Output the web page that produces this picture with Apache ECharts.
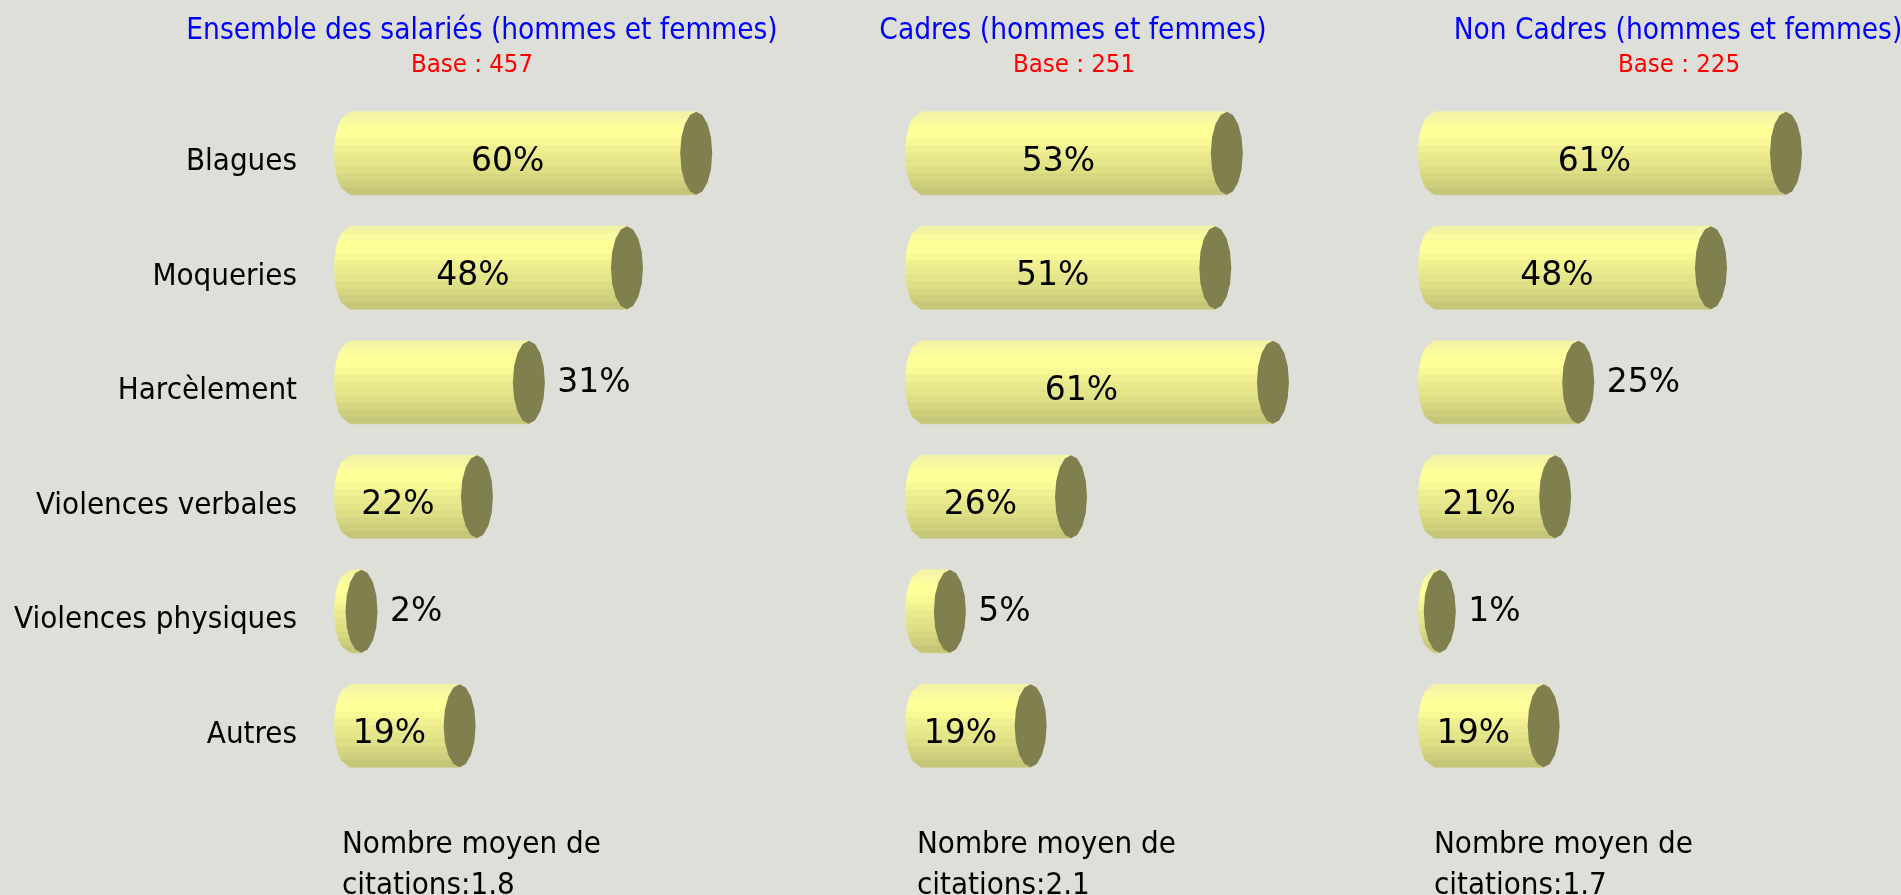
<!DOCTYPE html>
<html>
<head>
<meta charset="utf-8">
<script src="https://cdn.jsdelivr.net/npm/echarts@6/dist/echarts.min.js"></script>
<style>
  html, body { margin: 0; padding: 0; background: #DFDFD9; }
  #chart { width: 1901px; height: 895px; }
</style>
</head>
<body>
<div id="chart"></div>
<script>
// 数据
const categories = ['Blagues', 'Moqueries', 'Harcèlement', 'Violences verbales', 'Violences physiques', 'Autres'];
const ensembleValues = [60, 48, 31, 22, 2, 19];
const cadresValues = [53, 51, 61, 26, 5, 19];
const nonCadresValues = [61, 48, 25, 21, 1, 19];
const panelTitles = ['Ensemble des salariés (hommes et femmes)', 'Cadres (hommes et femmes)', 'Non Cadres (hommes et femmes)'];
const panelBases = ['Base : 457', 'Base : 251', 'Base : 225'];
const panelAverages = ['1.8', '2.1', '1.7'];

// 布局 / 样式
const panelValues = [ensembleValues, cadresValues, nonCadresValues];
const gridLeft = [350, 921, 1434];
const axisMax = 70;
const gridWidth = 5.77 * axisMax;  // 5.77 px par %
const titleCenter = [482, 1073, 1678];
const baseCenter = [472, 1074, 1679];
const footLeft = [342, 917, 1434];
const labelOutside = [[2, 4], [4], [2, 4]];   // lignes avec étiquette à droite du cylindre
const condensed = "'DejaVu Sans Condensed', 'DejaVu Sans', sans-serif";
const stripeColors = ['#F4F4A4', '#FAFAA0', '#FFFF9A', '#FFFF99', '#F8F894', '#F0F090',
  '#EAEA8C', '#E4E488', '#DEDE85', '#D6D680', '#CECE7C', '#C6C678'];
const capColor = '#80804E';

function ellipsePoints(cx, cy, rx, ry, n) {
  const pts = [];
  for (let i = 0; i < n; i++) {
    const a = (i / n) * Math.PI * 2;
    pts.push([cx + rx * Math.cos(a), cy + ry * Math.sin(a)]);
  }
  return pts;
}

function makeRenderer(panel) {
  return function (params, api) {
    const v = api.value(0);
    const idx = api.value(1);
    const start = api.coord([0, idx]);
    const end = api.coord([v, idx]);
    const band = api.size([0, 1])[1];
    const h = band * 0.725;
    const ry = h / 2;
    const cy = start[1];
    const x0 = start[0];
    const xc = end[0];
    const rx = 15.5;
    const leftX = (y) => {
      const t = (y - cy) / ry;
      return x0 - rx * Math.sqrt(Math.max(0, 1 - t * t));
    };
    const children = [];
    const n = stripeColors.length;
    for (let k = 0; k < n; k++) {
      const y1 = cy - ry + (k * h) / n;
      const y2 = cy - ry + ((k + 1) * h) / n;
      children.push({
        type: 'polygon',
        shape: { points: [[leftX(y1), y1], [xc, y1], [xc, y2], [leftX(y2), y2]] },
        style: { fill: stripeColors[k], stroke: stripeColors[k], lineWidth: 0.6 }
      });
    }
    children.push({
      type: 'polygon',
      shape: { points: ellipsePoints(xc, cy, rx + 0.5, ry, 16) },
      style: { fill: capColor }
    });
    const outside = labelOutside[panel].indexOf(idx) >= 0;
    children.push({
      type: 'text',
      style: {
        text: v + '%',
        x: outside ? xc + rx + 13 : (x0 - rx + xc - rx) / 2,
        y: outside ? cy + 1 : cy + 9,
        align: outside ? 'left' : 'center',
        verticalAlign: 'middle',
        fill: '#000',
        font: "33px 'DejaVu Sans', sans-serif"
      }
    });
    return { type: 'group', children: children };
  };
}

const chart = echarts.init(document.getElementById('chart'), null, { renderer: 'canvas' });

const grids = [], xAxes = [], yAxes = [], series = [], graphics = [];
for (let p = 0; p < 3; p++) {
  grids.push({ left: gridLeft[p], width: gridWidth, top: 96, height: 687 });
  xAxes.push({ type: 'value', gridIndex: p, min: 0, max: axisMax, show: false });
  yAxes.push({
    type: 'category', gridIndex: p, data: categories, inverse: true,
    axisLine: { show: false }, axisTick: { show: false }, splitLine: { show: false },
    axisLabel: {
      show: p === 0, margin: 53, color: '#000', fontSize: 31,
      fontFamily: condensed, verticalAlign: 'top', lineHeight: 18
    }
  });
  series.push({
    type: 'custom', xAxisIndex: p, yAxisIndex: p, clip: false,
    renderItem: makeRenderer(p),
    encode: { x: 0, y: 1 },
    data: panelValues[p].map((v, i) => [v, i])
  });
  graphics.push({
    type: 'text', x: titleCenter[p], y: 31,
    style: { text: panelTitles[p], align: 'center', verticalAlign: 'middle', fill: '#0000FF', font: '29.5px ' + condensed }
  });
  graphics.push({
    type: 'text', x: baseCenter[p], y: 65,
    style: { text: panelBases[p], align: 'center', verticalAlign: 'middle', fill: '#FF0000', font: '25.5px ' + condensed }
  });
  graphics.push({
    type: 'text', x: footLeft[p], y: 824,
    style: {
      text: 'Nombre moyen de\ncitations:' + panelAverages[p], align: 'left', verticalAlign: 'top',
      fill: '#000', font: '31px ' + condensed, lineHeight: 41
    }
  });
}

chart.setOption({
  backgroundColor: '#DFDFD9',
  animation: false,
  grid: grids,
  xAxis: xAxes,
  yAxis: yAxes,
  series: series,
  graphic: graphics
});
</script>
</body>
</html>
